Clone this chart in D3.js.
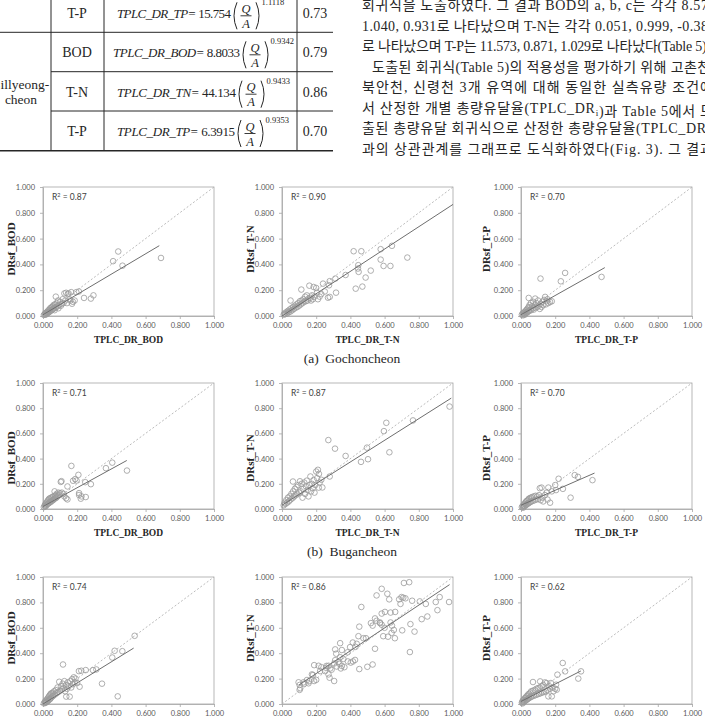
<!DOCTYPE html>
<html>
<head>
<meta charset="utf-8">
<script src="https://cdn.jsdelivr.net/npm/d3@7"></script>
<style>
  body { margin: 0; background: #fff; }
  svg { display: block; }
</style>
</head>
<body>
<script>
// ---- table (end of Table 5) ----
const tableItems = ['T-P', 'BOD', 'T-N', 'T-P'];
const tableNames = ['TP', 'BOD', 'TN', 'TP'];
const tableCoef = ['15.754', '8.8033', '44.134', '6.3915'];
const tableExp = ['1.1118', '0.9342', '0.9433', '0.9353'];
const tableR2 = ['0.73', '0.79', '0.86', '0.70'];

// ---- body text (right column), '_i' marks a subscript ----
const bodyLines = [
  ['회귀식을 도출하였다. 그 결과 BOD의 a, b, c는 각각 8.57'],
  ['1.040, 0.931로 나타났으며 T-N는 각각 0.051, 0.999, -0.38'],
  ['로 나타났으며 T-P는 11.573, 0.871, 1.029로 나타났다(Table 5).'],
  ['도출된 회귀식(Table 5)의 적용성을 평가하기 위해 고촌천,'],
  ['북안천, 신령천 3개 유역에 대해 동일한 실측유량 조건에'],
  ['서 산정한 개별 총량유달율(TPLC_DR', '_i', ')과 Table 5에서 도'],
  ['출된 총량유달 회귀식으로 산정한 총량유달율(TPLC_DR'],
  ['과의 상관관계를 그래프로 도식화하였다(Fig. 3). 그 결과']
];

// ---- Fig. 3 ----
const ticks = [0, 0.2, 0.4, 0.6, 0.8, 1.0];
const captions = ['(a)  Gochoncheon', '(b)  Bugancheon'];
const yTitles = ['DRsf_BOD', 'DRsf_T-N', 'DRsf_T-P'];
const xTitles = ['TPLC_DR_BOD', 'TPLC_DR_T-N', 'TPLC_DR_T-P'];
const r2 = [[0.87, 0.90, 0.70], [0.71, 0.87, 0.70], [0.74, 0.86, 0.62]];

// [TPLC_DR, DRsf]
const goBOD = [[0.005,0.008],[0.01,0.012],[0.012,0.02],[0.015,0.01],[0.018,0.025],[0.02,0.015],[0.022,0.03],[0.025,0.02],[0.028,0.035],[0.03,0.025],[0.032,0.045],[0.035,0.03],[0.038,0.05],[0.04,0.035],[0.042,0.06],[0.045,0.04],[0.048,0.065],[0.05,0.045],[0.052,0.07],[0.055,0.05],[0.058,0.075],[0.06,0.055],[0.062,0.085],[0.065,0.06],[0.068,0.045],[0.07,0.09],[0.072,0.065],[0.075,0.15],[0.078,0.07],[0.08,0.1],[0.085,0.075],[0.088,0.12],[0.09,0.06],[0.095,0.085],[0.1,0.11],[0.105,0.08],[0.11,0.095],[0.115,0.13],[0.12,0.1],[0.125,0.175],[0.13,0.12],[0.135,0.18],[0.14,0.1],[0.145,0.17],[0.15,0.175],[0.155,0.13],[0.16,0.12],[0.165,0.185],[0.17,0.095],[0.175,0.11],[0.185,0.12],[0.195,0.185],[0.21,0.19],[0.24,0.14],[0.28,0.135],[0.295,0.16],[0.41,0.425],[0.44,0.5],[0.465,0.39],[0.69,0.45]];
const goTN = [[0.01,0.01],[0.015,0.02],[0.02,0.015],[0.025,0.03],[0.03,0.02],[0.035,0.04],[0.04,0.03],[0.045,0.05],[0.05,0.035],[0.05,0.12],[0.055,0.06],[0.06,0.045],[0.065,0.07],[0.07,0.055],[0.075,0.08],[0.08,0.065],[0.085,0.09],[0.09,0.07],[0.095,0.1],[0.1,0.08],[0.105,0.115],[0.11,0.09],[0.113,0.205],[0.115,0.12],[0.12,0.1],[0.125,0.13],[0.13,0.11],[0.135,0.15],[0.14,0.115],[0.145,0.16],[0.15,0.12],[0.155,0.135],[0.16,0.235],[0.165,0.14],[0.17,0.12],[0.175,0.16],[0.18,0.13],[0.185,0.225],[0.19,0.15],[0.2,0.217],[0.205,0.181],[0.21,0.13],[0.22,0.15],[0.23,0.17],[0.24,0.251],[0.25,0.19],[0.269,0.142],[0.275,0.238],[0.279,0.148],[0.279,0.27],[0.312,0.29],[0.316,0.181],[0.372,0.318],[0.419,0.502],[0.431,0.212],[0.444,0.368],[0.446,0.394],[0.448,0.342],[0.464,0.502],[0.47,0.228],[0.489,0.298],[0.519,0.352],[0.577,0.518],[0.577,0.437],[0.594,0.388],[0.634,0.388],[0.643,0.544],[0.733,0.453]];
const goTP = [[0.005,0.01],[0.01,0.02],[0.012,0.005],[0.015,0.025],[0.018,0.015],[0.02,0.03],[0.022,0.01],[0.025,0.035],[0.028,0.02],[0.03,0.045],[0.032,0.025],[0.035,0.05],[0.038,0.03],[0.04,0.06],[0.042,0.035],[0.045,0.14],[0.045,0.07],[0.048,0.04],[0.05,0.085],[0.055,0.05],[0.058,0.1],[0.06,0.045],[0.065,0.075],[0.07,0.06],[0.072,0.11],[0.075,0.05],[0.08,0.085],[0.083,0.135],[0.085,0.065],[0.09,0.1],[0.095,0.07],[0.1,0.12],[0.105,0.08],[0.11,0.055],[0.114,0.29],[0.115,0.095],[0.12,0.07],[0.125,0.11],[0.13,0.085],[0.135,0.125],[0.141,0.148],[0.145,0.09],[0.15,0.115],[0.155,0.13],[0.16,0.1],[0.17,0.109],[0.18,0.114],[0.233,0.269],[0.258,0.334],[0.471,0.303]];

const buBOD = [[0.005,0.015],[0.01,0.03],[0.012,0.02],[0.015,0.04],[0.018,0.025],[0.02,0.05],[0.022,0.035],[0.025,0.06],[0.028,0.04],[0.03,0.07],[0.032,0.045],[0.035,0.08],[0.038,0.05],[0.04,0.085],[0.042,0.055],[0.045,0.065],[0.048,0.09],[0.05,0.06],[0.055,0.095],[0.058,0.07],[0.06,0.1],[0.062,0.075],[0.065,0.08],[0.068,0.14],[0.07,0.105],[0.072,0.085],[0.075,0.11],[0.078,0.09],[0.08,0.12],[0.085,0.1],[0.09,0.13],[0.095,0.11],[0.1,0.125],[0.104,0.215],[0.108,0.221],[0.11,0.13],[0.12,0.12],[0.125,0.1],[0.135,0.085],[0.143,0.076],[0.143,0.179],[0.166,0.342],[0.176,0.224],[0.188,0.237],[0.196,0.226],[0.207,0.271],[0.211,0.111],[0.211,0.126],[0.221,0.082],[0.225,0.1],[0.247,0.213],[0.25,0.095],[0.28,0.197],[0.368,0.324],[0.405,0.368],[0.491,0.305]];
const buTN = [[0.01,0.03],[0.015,0.05],[0.02,0.04],[0.025,0.07],[0.03,0.05],[0.035,0.09],[0.04,0.06],[0.045,0.1],[0.05,0.075],[0.055,0.12],[0.06,0.085],[0.064,0.218],[0.065,0.14],[0.07,0.1],[0.075,0.16],[0.08,0.11],[0.085,0.175],[0.09,0.12],[0.095,0.19],[0.1,0.13],[0.105,0.22],[0.11,0.14],[0.115,0.2],[0.12,0.09],[0.125,0.16],[0.13,0.21],[0.135,0.12],[0.14,0.18],[0.145,0.225],[0.15,0.15],[0.155,0.1],[0.16,0.19],[0.166,0.258],[0.17,0.14],[0.175,0.2],[0.18,0.165],[0.185,0.23],[0.19,0.13],[0.195,0.19],[0.2,0.297],[0.205,0.245],[0.21,0.311],[0.215,0.17],[0.216,0.279],[0.22,0.21],[0.23,0.232],[0.236,0.171],[0.271,0.547],[0.279,0.258],[0.31,0.479],[0.372,0.421],[0.462,0.374],[0.497,0.487],[0.503,0.395],[0.596,0.618],[0.61,0.684],[0.628,0.45],[0.766,0.703],[0.98,0.813]];
const buTP = [[0.005,0.015],[0.01,0.025],[0.012,0.01],[0.015,0.03],[0.018,0.02],[0.02,0.04],[0.022,0.025],[0.025,0.05],[0.028,0.03],[0.03,0.06],[0.032,0.035],[0.035,0.065],[0.038,0.04],[0.04,0.07],[0.042,0.045],[0.045,0.08],[0.048,0.05],[0.05,0.085],[0.055,0.055],[0.058,0.09],[0.06,0.06],[0.065,0.095],[0.07,0.065],[0.075,0.1],[0.08,0.07],[0.085,0.105],[0.09,0.075],[0.095,0.1],[0.1,0.08],[0.105,0.11],[0.11,0.165],[0.115,0.07],[0.12,0.17],[0.125,0.09],[0.13,0.06],[0.14,0.11],[0.15,0.13],[0.155,0.075],[0.16,0.17],[0.17,0.05],[0.18,0.14],[0.2,0.19],[0.205,0.15],[0.22,0.24],[0.245,0.16],[0.29,0.09],[0.314,0.269],[0.333,0.255],[0.418,0.229]];

const siBOD = [[0.005,0.005],[0.01,0.015],[0.012,0.008],[0.015,0.025],[0.018,0.012],[0.02,0.03],[0.022,0.018],[0.025,0.04],[0.028,0.022],[0.03,0.05],[0.032,0.03],[0.035,0.06],[0.038,0.035],[0.04,0.07],[0.042,0.04],[0.045,0.08],[0.048,0.05],[0.05,0.085],[0.055,0.06],[0.058,0.09],[0.06,0.065],[0.065,0.1],[0.07,0.075],[0.075,0.11],[0.08,0.085],[0.085,0.13],[0.09,0.095],[0.095,0.175],[0.1,0.105],[0.105,0.14],[0.11,0.115],[0.115,0.16],[0.117,0.311],[0.12,0.125],[0.125,0.18],[0.13,0.1],[0.135,0.15],[0.136,0.058],[0.14,0.12],[0.145,0.17],[0.15,0.14],[0.156,0.058],[0.16,0.18],[0.165,0.13],[0.17,0.195],[0.175,0.155],[0.18,0.21],[0.185,0.17],[0.19,0.2],[0.2,0.165],[0.21,0.259],[0.214,0.136],[0.224,0.262],[0.25,0.267],[0.292,0.267],[0.312,0.272],[0.345,0.16],[0.405,0.366],[0.419,0.419],[0.437,0.06],[0.464,0.416],[0.536,0.537]];
const siTN = [[0.103,0.15],[0.107,0.124],[0.103,0.111],[0.097,0.171],[0.126,0.171],[0.13,0.16],[0.146,0.189],[0.155,0.163],[0.16,0.18],[0.188,0.181],[0.175,0.233],[0.181,0.228],[0.2,0.19],[0.188,0.306],[0.214,0.301],[0.223,0.259],[0.23,0.29],[0.252,0.259],[0.258,0.285],[0.26,0.3],[0.272,0.301],[0.282,0.28],[0.272,0.233],[0.278,0.207],[0.29,0.27],[0.305,0.181],[0.305,0.319],[0.311,0.345],[0.311,0.43],[0.317,0.396],[0.32,0.295],[0.33,0.33],[0.336,0.316],[0.344,0.28],[0.35,0.3],[0.34,0.368],[0.359,0.355],[0.34,0.479],[0.35,0.425],[0.365,0.29],[0.383,0.407],[0.385,0.335],[0.398,0.448],[0.402,0.326],[0.414,0.484],[0.415,0.335],[0.427,0.347],[0.43,0.45],[0.437,0.474],[0.447,0.534],[0.452,0.609],[0.452,0.275],[0.464,0.764],[0.476,0.518],[0.491,0.518],[0.499,0.293],[0.52,0.637],[0.53,0.617],[0.53,0.311],[0.544,0.674],[0.544,0.435],[0.553,0.655],[0.553,0.855],[0.573,0.642],[0.573,0.637],[0.583,0.624],[0.583,0.712],[0.583,0.907],[0.592,0.534],[0.6,0.6],[0.602,0.725],[0.616,0.868],[0.62,0.53],[0.627,0.824],[0.635,0.72],[0.635,0.642],[0.641,0.56],[0.643,0.617],[0.654,0.583],[0.66,0.518],[0.662,0.725],[0.685,0.824],[0.693,0.788],[0.699,0.842],[0.703,0.58],[0.709,0.837],[0.713,0.953],[0.722,0.832],[0.744,0.959],[0.748,0.409],[0.751,0.629],[0.761,0.813],[0.775,0.57],[0.806,0.808],[0.817,0.668],[0.841,0.788],[0.85,0.689],[0.899,0.803],[0.909,0.739],[0.922,0.842],[0.977,0.803]];
const siTP = [[0.005,0.01],[0.008,0.02],[0.01,0.005],[0.012,0.03],[0.015,0.015],[0.018,0.035],[0.02,0.02],[0.022,0.045],[0.025,0.025],[0.028,0.05],[0.03,0.03],[0.032,0.06],[0.035,0.035],[0.038,0.065],[0.04,0.04],[0.042,0.075],[0.045,0.045],[0.048,0.08],[0.05,0.05],[0.055,0.09],[0.058,0.055],[0.06,0.1],[0.065,0.06],[0.07,0.173],[0.07,0.105],[0.075,0.065],[0.08,0.11],[0.085,0.07],[0.09,0.12],[0.095,0.075],[0.1,0.125],[0.105,0.08],[0.11,0.13],[0.112,0.178],[0.115,0.085],[0.12,0.14],[0.125,0.09],[0.13,0.15],[0.135,0.095],[0.14,0.17],[0.145,0.1],[0.15,0.165],[0.155,0.11],[0.16,0.06],[0.165,0.14],[0.17,0.12],[0.175,0.165],[0.18,0.06],[0.185,0.13],[0.19,0.1],[0.2,0.12],[0.205,0.152],[0.209,0.113],[0.213,0.231],[0.244,0.323],[0.258,0.257],[0.335,0.2],[0.351,0.257]];

const points = [[goBOD, goTN, goTP], [buBOD, buTN, buTP], [siBOD, siTN, siTP]];

// linear trend line end points per panel
const fits = [
  [[[0, 0.01], [0.68, 0.545]], [[0, 0.0], [1.0, 0.865]], [[0, 0.01], [0.49, 0.375]]],
  [[[0, 0.02], [0.49, 0.385]], [[0, 0.03], [0.99, 0.88]], [[0, 0.03], [0.43, 0.285]]],
  [[[0, 0.0], [0.53, 0.44]], [[0.1, 0.15], [0.98, 0.94]], [[0, 0.02], [0.35, 0.26]]]
];

const W = 705, H = 720;
const svg = d3.select('body').append('svg').attr('width', W).attr('height', H)
  .style('font-family', '"Liberation Serif", "Noto Sans CJK KR", serif');
const ink = '#262626';

// ---------------- table ----------------
const tbl = svg.append('g').attr('stroke', ink);
const rowLines = [32.3, 71.7, 111, 150.7];
tbl.selectAll('line.h').data(rowLines).join('line')
  .attr('x1', (d, i) => (i === 0 || i === 3) ? 0 : 51).attr('x2', 333)
  .attr('y1', d => d).attr('y2', d => d)
  .attr('stroke-width', (d, i) => i === 3 ? 1.6 : 1);
tbl.selectAll('line.v').data([51, 104, 297]).join('line')
  .attr('x1', d => d).attr('x2', d => d).attr('y1', 0).attr('y2', 150.7)
  .attr('stroke-width', 1);

const rowCy = [13.3, 52.3, 91.7, 131];
const eqStart = [117, 113, 117, 117];
const eqParen = [233, 242, 238, 237];

svg.append('g').selectAll('text').data(tableItems).join('text')
  .attr('x', 77).attr('y', (d, i) => rowCy[i] + 5)
  .attr('text-anchor', 'middle').attr('font-size', 14).attr('fill', ink)
  .text(d => d);
svg.append('g').selectAll('text').data(tableR2).join('text')
  .attr('x', 315).attr('y', (d, i) => rowCy[i] + 5)
  .attr('text-anchor', 'middle').attr('font-size', 14).attr('fill', ink)
  .text(d => d);
svg.append('text').attr('x', 21).attr('y', 89).attr('text-anchor', 'middle')
  .attr('font-size', 13.5).attr('fill', ink).text('Sillyeong-');
svg.append('text').attr('x', 21).attr('y', 104).attr('text-anchor', 'middle')
  .attr('font-size', 13.5).attr('fill', ink).text('cheon');

tableNames.forEach((nm, i) => {
  const cy = rowCy[i];
  const g = svg.append('g').attr('fill', ink);
  const t = g.append('text').attr('x', eqStart[i]).attr('y', cy + 5)
    .attr('font-size', 13)
    .attr('textLength', eqParen[i] - eqStart[i] - 2).attr('lengthAdjust', 'spacing');
  t.append('tspan').attr('font-style', 'italic').text(`TPLC_DR_${nm}=`);
  t.append('tspan').text(' ' + tableCoef[i]);
  const px = eqParen[i];
  const qx = px + 13;
  const rx = px + 27;
  const paren = (x, dir) => `M${x + 4 * dir},${cy - 11} Q${x - 2 * dir},${cy + 2.5} ${x + 4 * dir},${cy + 16}`;
  g.append('path').attr('d', paren(px, 1)).attr('fill', 'none').attr('stroke', ink).attr('stroke-width', 1);
  g.append('path').attr('d', paren(rx, -1)).attr('fill', 'none').attr('stroke', ink).attr('stroke-width', 1);
  g.append('text').attr('x', qx).attr('y', cy - 0.5).attr('text-anchor', 'middle')
    .attr('font-size', 12.5).attr('font-style', 'italic').text('Q');
  g.append('line').attr('x1', qx - 5.5).attr('x2', qx + 5.5).attr('y1', cy + 2.5).attr('y2', cy + 2.5)
    .attr('stroke', ink).attr('stroke-width', 0.9);
  g.append('text').attr('x', qx).attr('y', cy + 14.5).attr('text-anchor', 'middle')
    .attr('font-size', 12.5).attr('font-style', 'italic').text('A');
  g.append('text').attr('x', rx + 1.5).attr('y', cy - 8).attr('font-size', 8.5).text(tableExp[i]);
});

// ---------------- body text ----------------
const lineX = [362, 362, 362, 372, 362, 362, 362, 362];
const lineEnd = [708, 708, 710, 714, 713, 713, 706, 713];
bodyLines.forEach((segs, i) => {
  const t = svg.append('text').attr('x', lineX[i]).attr('y', 10 + i * 20.5)
    .attr('font-size', 14).attr('fill', ink)
    .attr('textLength', lineEnd[i] - lineX[i]).attr('lengthAdjust', 'spacing');
  segs.forEach(s => {
    if (s.startsWith('_')) {
      t.append('tspan').attr('font-size', 9).attr('dy', 3).text(s.slice(1));
      t.append('tspan').attr('dy', -3).text('');
    } else {
      t.append('tspan').text(s);
    }
  });
});

// ---------------- scatter panels ----------------
const colX = [43, 282, 521];
const plotW = 171;
const rows = [
  {top: 187, bottom: 316, yTitleY: 249},
  {top: 383, bottom: 509, yTitleY: 458},
  {top: 577, bottom: 704, yTitleY: 638}
];
const yTitleX = [11, 250, 486];
const fmt = d3.format('.3f');
const tickFont = 'Lato, "Open Sans", sans-serif';

rows.forEach((rw, r) => {
  colX.forEach((x0, c) => {
    const x = d3.scaleLinear().domain([0, 1]).range([x0, x0 + plotW]);
    const y = d3.scaleLinear().domain([0, 1]).range([rw.bottom, rw.top]);
    const g = svg.append('g');

    g.append('rect').attr('x', x0).attr('y', rw.top)
      .attr('width', plotW).attr('height', rw.bottom - rw.top)
      .attr('fill', 'none').attr('stroke', '#a6a6a6').attr('stroke-width', 0.8);

    const ax = g.append('g').attr('transform', `translate(0,${rw.bottom})`)
      .call(d3.axisBottom(x).tickValues(ticks).tickFormat(fmt).tickSize(3).tickSizeOuter(0).tickPadding(4));
    const ay = g.append('g').attr('transform', `translate(${x0},0)`)
      .call(d3.axisLeft(y).tickValues(ticks).tickFormat(fmt).tickSize(3).tickSizeOuter(0).tickPadding(5));
    [ax, ay].forEach(a => {
      a.select('.domain').attr('stroke', '#a6a6a6').attr('stroke-width', 0.8);
      a.selectAll('.tick line').attr('stroke', '#a6a6a6').attr('stroke-width', 0.8);
      a.selectAll('.tick text').attr('fill', '#595959')
        .style('font-family', tickFont).style('font-size', '7.5px');
    });

    // 1:1 line
    g.append('line').attr('x1', x(0)).attr('y1', y(0)).attr('x2', x(1)).attr('y2', y(1))
      .attr('stroke', '#b3b3b3').attr('stroke-width', 0.9).attr('stroke-dasharray', '2,2');

    g.append('g').selectAll('circle').data(points[r][c]).join('circle')
      .attr('cx', d => x(d[0])).attr('cy', d => y(d[1])).attr('r', 2.8)
      .attr('fill', 'none').attr('stroke', '#9a9a9a').attr('stroke-width', 0.8);

    const f = fits[r][c];
    g.append('line').attr('x1', x(f[0][0])).attr('y1', y(f[0][1]))
      .attr('x2', x(f[1][0])).attr('y2', y(f[1][1]))
      .attr('stroke', '#6e6e6e').attr('stroke-width', 1);

    const rt = g.append('text').attr('x', x0 + 9).attr('y', rw.top + 13)
      .style('font-family', tickFont).style('font-size', '8.5px').attr('fill', '#404040');
    rt.append('tspan').text('R');
    rt.append('tspan').attr('dy', -3).style('font-size', '5.5px').text('2');
    rt.append('tspan').attr('dy', 3).text(' = ' + r2[r][c].toFixed(2));

    g.append('text').attr('transform', `translate(${yTitleX[c] + 4},${rw.yTitleY}) rotate(-90)`)
      .attr('text-anchor', 'middle').attr('font-weight', 'bold').attr('font-size', 11)
      .attr('fill', ink).text(yTitles[c]);

    g.append('text').attr('x', x0 + plotW / 2).attr('y', rw.bottom + 26.5)
      .attr('text-anchor', 'middle').attr('font-weight', 'bold').attr('font-size', 9.5)
      .attr('fill', ink).text(xTitles[c]);
  });
  if (captions[r]) {
    svg.append('text').attr('x', 352).attr('y', rw.bottom + 47)
      .attr('text-anchor', 'middle').attr('font-size', 13.5).attr('fill', ink)
      .attr('xml:space', 'preserve').style('white-space', 'pre')
      .text(captions[r]);
  }
});
</script>
</body>
</html>
